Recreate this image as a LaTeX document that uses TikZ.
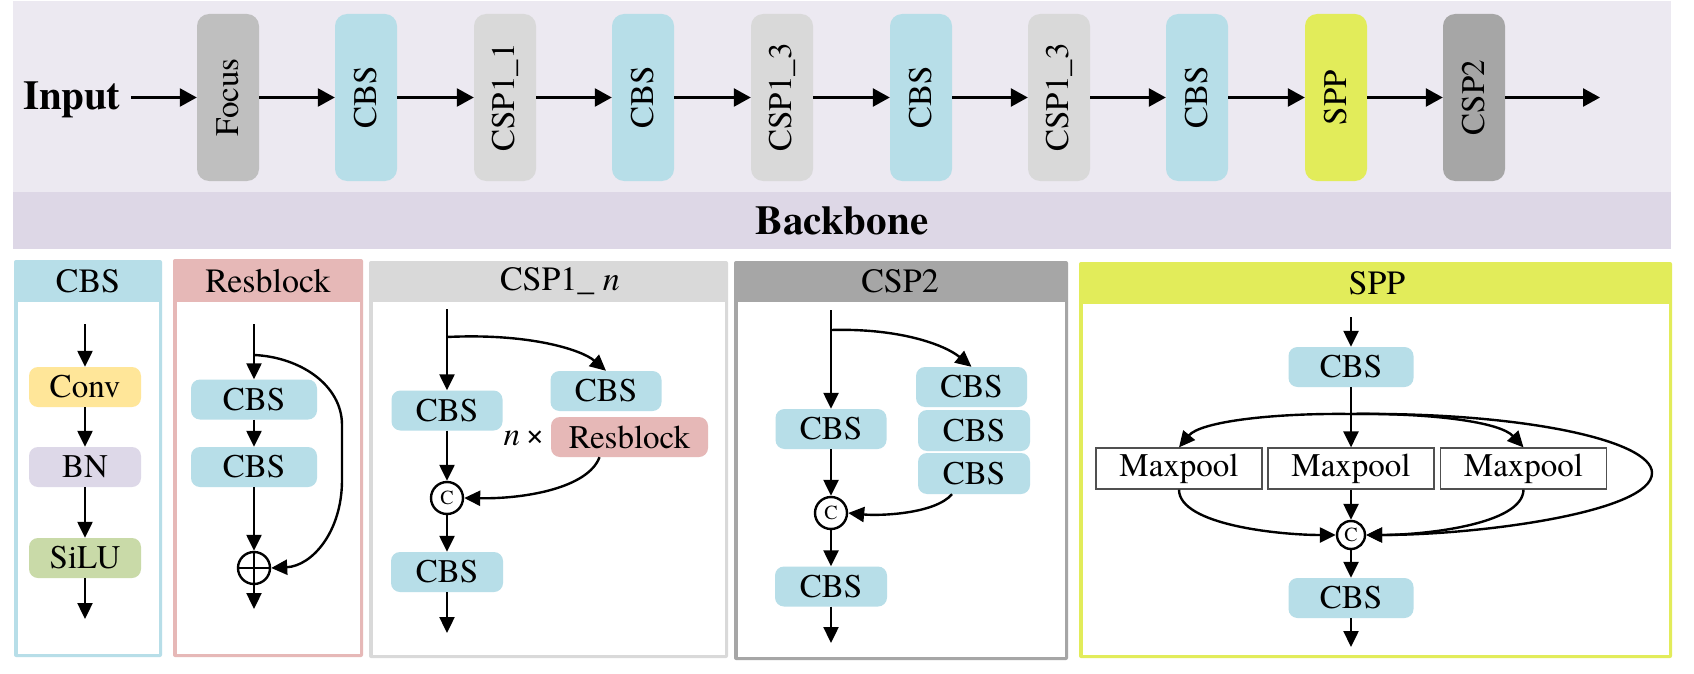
\documentclass[tikz,border=0pt]{standalone}
\usepackage{fontspec}
\setmainfont{texgyretermes}[Extension=.otf,UprightFont=*-regular,BoldFont=*-bold,ItalicFont=*-italic,BoldItalicFont=*-bolditalic]
\usetikzlibrary{arrows.meta}
\definecolor{topbg}{RGB}{236,233,241}
\definecolor{bandbg}{RGB}{221,215,230}
\definecolor{cbsc}{RGB}{183,222,232}
\definecolor{focusc}{RGB}{191,191,191}
\definecolor{cspone}{RGB}{217,217,217}
\definecolor{csptwo}{RGB}{166,166,166}
\definecolor{sppc}{RGB}{226,236,90}
\definecolor{convc}{RGB}{255,230,153}
\definecolor{bnc}{RGB}{221,216,232}
\definecolor{siluc}{RGB}{201,218,168}
\definecolor{resc}{RGB}{230,184,183}
\definecolor{mpline}{RGB}{80,80,80}
\newcommand\bigft{\fontsize{41}{49}\selectfont\bfseries}
\newcommand\topft{\fontsize{33}{38}\selectfont}
\newcommand\hdft{\fontsize{34}{40}\selectfont}
\newcommand\inft{\fontsize{33}{39}\selectfont}
\newcommand\cft{\fontsize{20}{24}\selectfont}
\newcommand\panel[6]{% x1 y1 x2 y2 colour headerbottom
  \fill[#5,rounded corners=2pt] (#1,#2) rectangle (#3,#4);
  \fill[white] (#1+3.5,#6) rectangle (#3-3.5,#4-3.5);}
\tikzset{
  arr/.style={line width=2.6pt,-{Triangle[length=17pt,width=18pt]}},
  arrs/.style={line width=2.4pt,-{Triangle[length=16pt,width=15pt]}},
  ln/.style={line width=2.4pt},
  topbox/.style={rounded corners=12pt,minimum width=62pt,minimum height=167pt,inner sep=0pt,font=\topft},
  ibox/.style={rounded corners=9pt,minimum height=40pt,inner sep=0pt,font=\inft},
  mpbox/.style={draw=mpline,line width=1.2pt,fill=white,minimum width=166pt,minimum height=41pt,inner sep=0pt,font=\inft},
  ccirc/.style={circle,draw,line width=2.4pt,fill=white,minimum size=32pt,inner sep=0pt,font=\cft},
  hdr/.style={font=\hdft,inner sep=0pt}
}
\begin{document}
\begin{tikzpicture}[x=1pt,y=-1pt]
\useasboundingbox (0,0) rectangle (1694,674);
\fill[white] (0,0) rectangle (1694,674);
% ---------------- top backbone ----------------
\fill[topbg] (13,1) rectangle (1671,192);
\fill[bandbg] (13,192) rectangle (1671,249);
\node[font=\bigft,inner sep=0pt] (bb) at (842,221) {Backbone};
\node[font=\bigft,inner sep=0pt,anchor=base west] (inp) at (23,110) {Input};
\node[topbox,fill=focusc] (t1) at (228,97.5) {\rotatebox{90}{Focus}};
\node[topbox,fill=cbsc] (t2) at (366,97.5) {\rotatebox{90}{CBS}};
\node[topbox,fill=cspone] (t3) at (505,97.5) {\rotatebox{90}{CSP1\_1}};
\node[topbox,fill=cbsc] (t4) at (643,97.5) {\rotatebox{90}{CBS}};
\node[topbox,fill=cspone] (t5) at (782,97.5) {\rotatebox{90}{CSP1\_3}};
\node[topbox,fill=cbsc] (t6) at (921,97.5) {\rotatebox{90}{CBS}};
\node[topbox,fill=cspone] (t7) at (1059,97.5) {\rotatebox{90}{CSP1\_3}};
\node[topbox,fill=cbsc] (t8) at (1197,97.5) {\rotatebox{90}{CBS}};
\node[topbox,fill=sppc] (t9) at (1336,97.5) {\rotatebox{90}{SPP}};
\node[topbox,fill=csptwo] (t10) at (1474,97.5) {\rotatebox{90}{CSP2}};
\coordinate (tout) at (1600,97.5);
\draw[arr] ([xshift=10pt]inp.east |- t1.west) -- (t1.west);
\foreach \a/\b in {t1/t2,t2/t3,t3/t4,t4/t5,t5/t6,t6/t7,t7/t8,t8/t9,t9/t10}
  \draw[arr] (\a.east) -- (\b.west);
\draw[arr] (t10.east) -- (tout);
% ---------------- panel frames ----------------
\panel{14}{260}{162}{657}{cbsc}{302}
\panel{173}{259}{363}{657}{resc}{302}
\panel{369}{261}{728}{658}{cspone}{302}
\panel{734}{261}{1068}{660}{csptwo}{302}
\panel{1079}{262}{1672}{658}{sppc}{304}
\node[hdr] (h1) at (88,281) {CBS};
\node[hdr] (h2) at (268,281) {Resblock};
\node[hdr] (h3) at (560,281) {CSP1\_ \textit{n}};
\node[hdr] (h4) at (900,281) {CSP2};
\node[hdr] (h5) at (1377,283) {SPP};
% ---------------- CBS panel ----------------
\node[ibox,fill=convc,minimum width=112pt] (conv) at (85,387) {Conv};
\node[ibox,fill=bnc,minimum width=112pt] (bn) at (85,467) {BN};
\node[ibox,fill=siluc,minimum width=112pt] (silu) at (85,558) {SiLU};
\coordinate (cin) at (85,324);
\coordinate (cout) at (85,619);
\draw[arrs] (cin) -- (conv.north);
\draw[arrs] (conv.south) -- (bn.north);
\draw[arrs] (bn.south) -- (silu.north);
\draw[arrs] (silu.south) -- (cout);
% ---------------- Resblock panel ----------------
\node[ibox,fill=cbsc,minimum width=126pt] (rb1) at (254,399.5) {CBS};
\node[ibox,fill=cbsc,minimum width=126pt] (rb2) at (254,467) {CBS};
\node[circle,draw,line width=2.4pt,minimum size=32pt,inner sep=0pt] (plus) at (254,568) {};
\draw[ln] (plus.north) -- (plus.south) (plus.west) -- (plus.east);
\coordinate (rin) at (254,324);
\coordinate (rbr) at (254,355);
\coordinate (rout) at (254,609);
\draw[arrs] (rin) -- (rb1.north);
\draw[arrs] (rb1.south) -- (rb2.north);
\draw[arrs] (rb2.south) -- (plus.north);
\draw[arrs] (plus.south) -- (rout);
\draw[arrs] (rbr) .. controls (300,357) and (342,385) .. (342,425) -- (342,480) .. controls (342,532) and (312,566) .. (plus.east);
% ---------------- CSP1_n panel ----------------
\node[ibox,fill=cbsc,minimum width=111pt] (a1) at (447,410.5) {CBS};
\node[ibox,fill=cbsc,minimum width=111pt] (a2) at (606,391) {CBS};
\node[ibox,fill=resc,minimum width=157pt] (a3) at (629.5,437) {Resblock};
\node[inner sep=0pt,font=\inft] (nx) at (524,438) {\textit{n}\,×};
\node[ccirc] (ac) at (447,498) {C};
\node[ibox,fill=cbsc,minimum width=112pt] (a4) at (447,572) {CBS};
\coordinate (ain) at (447,309);
\coordinate (abr) at (447,337);
\coordinate (aout) at (447,633);
\draw[arrs] (ain) -- (a1.north);
\draw[arrs] (abr) .. controls (530,333) and (582,350) .. (a2.north);
\draw[arrs] (a1.south) -- (ac.north);
\draw[arrs] ([xshift=-30pt]a3.south) .. controls (588,488) and (525,499) .. (ac.east);
\draw[arrs] (ac.south) -- (a4.north);
\draw[arrs] (a4.south) -- (aout);
% ---------------- CSP2 panel ----------------
\node[ibox,fill=cbsc,minimum width=111pt] (b1) at (831,429) {CBS};
\node[ibox,fill=cbsc,minimum width=111pt] (b2) at (971.5,387) {CBS};
\node[ibox,fill=cbsc,minimum width=112pt,minimum height=41pt] (b3) at (974,430.5) {CBS};
\node[ibox,fill=cbsc,minimum width=112pt,minimum height=41pt] (b4) at (974,473.5) {CBS};
\node[ccirc] (bc) at (831,513) {C};
\node[ibox,fill=cbsc,minimum width=112pt] (b5) at (831,586.5) {CBS};
\coordinate (bin) at (831,310);
\coordinate (bbr) at (831,330);
\coordinate (bout) at (831,643);
\draw[arrs] (bin) -- (b1.north);
\draw[arrs] (bbr) .. controls (900,328) and (945,345) .. (b2.north);
\draw[arrs] (b1.south) -- (bc.north);
\draw[arrs] ([xshift=-22pt]b4.south) .. controls (935,514) and (880,516) .. (bc.east);
\draw[arrs] (bc.south) -- (b5.north);
\draw[arrs] (b5.south) -- (bout);
% ---------------- SPP panel ----------------
\node[ibox,fill=cbsc,minimum width=125pt] (s1) at (1351,367) {CBS};
\node[mpbox] (m1) at (1179,468.5) {Maxpool};
\node[mpbox] (m2) at (1351,468.5) {Maxpool};
\node[mpbox] (m3) at (1523.5,468.5) {Maxpool};
\node[ccirc,minimum size=28pt] (sc) at (1351,535) {C};
\node[ibox,fill=cbsc,minimum width=125pt] (s2) at (1351,598) {CBS};
\coordinate (sin) at (1351,317);
\coordinate (sbr) at (1351,414);
\coordinate (sout) at (1351,647);
\draw[arrs] (sin) -- (s1.north);
\draw[arrs] (s1.south) -- (m2.north);
\draw[arrs] (sbr) .. controls (1270,413) and (1200,422) .. (m1.north);
\draw[arrs] (sbr) .. controls (1432,413) and (1500,422) .. (m3.north);
\draw[arrs] (sbr) .. controls (1520,412) and (1652,440) .. (1652,473) .. controls (1652,512) and (1480,535) .. (sc.east);
\draw[arrs] (m1.south) .. controls (1179,525) and (1280,535) .. (sc.west);
\draw[arrs] (m3.south) .. controls (1523,525) and (1422,535) .. (sc.east);
\draw[arrs] (m2.south) -- (sc.north);
\draw[arrs] (sc.south) -- (s2.north);
\draw[arrs] (s2.south) -- (sout);
\end{tikzpicture}
\end{document}
